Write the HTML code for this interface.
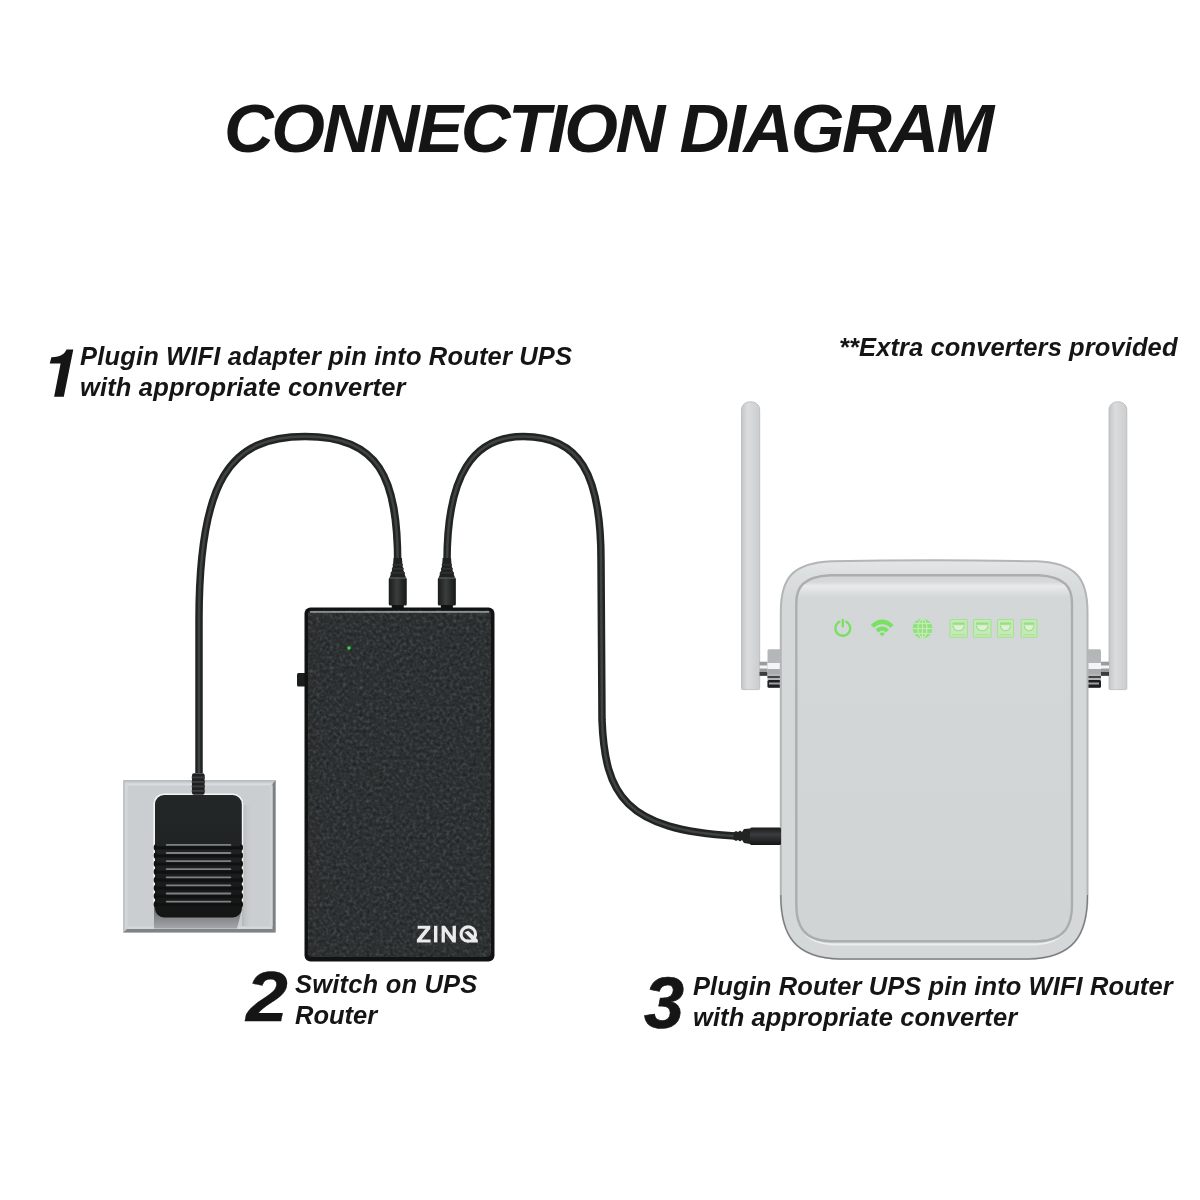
<!DOCTYPE html>
<html><head><meta charset="utf-8">
<style>
html,body{margin:0;padding:0;background:#fff;}
body{width:1200px;height:1200px;position:relative;overflow:hidden;font-family:"Liberation Sans",sans-serif;}
.t{position:absolute;white-space:nowrap;will-change:transform;font-weight:bold;font-style:italic;color:#151515;line-height:1;}
svg{position:absolute;left:0;top:0;}
</style></head><body>
<svg width="1200" height="1200" viewBox="0 0 1200 1200">
<defs>
  <filter id="grain" x="0" y="0" width="100%" height="100%" color-interpolation-filters="sRGB">
    <feTurbulence type="fractalNoise" baseFrequency="0.3" numOctaves="2" seed="7" result="n"/>
    <feColorMatrix in="n" type="matrix" values="0 0 0 0 0.29  0 0 0 0 0.31  0 0 0 0 0.32  2.4 0 0 0 -1.2" result="lite"/>
    <feColorMatrix in="n" type="matrix" values="0 0 0 0 0.08  0 0 0 0 0.10  0 0 0 0 0.11  -2.0 0 0 0 0.9" result="dark"/>
    <feMerge result="m"><feMergeNode in="dark"/><feMergeNode in="lite"/></feMerge>
    <feComposite in="m" in2="SourceGraphic" operator="in"/>
  </filter>
  <linearGradient id="ant" x1="0" x2="1" y1="0" y2="0">
    <stop offset="0" stop-color="#c4c6c7"/><stop offset="0.35" stop-color="#dadcdd"/><stop offset="1" stop-color="#cbcdce"/>
  </linearGradient>
  <linearGradient id="panel" gradientUnits="userSpaceOnUse" x1="0" x2="0" y1="575" y2="943">
    <stop offset="0" stop-color="#d3d6d7"/><stop offset="0.019" stop-color="#d6d9da"/><stop offset="0.03" stop-color="#e8eaeb"/><stop offset="0.06" stop-color="#d4d7d8"/><stop offset="1" stop-color="#d1d4d5"/>
  </linearGradient>
  <linearGradient id="rim" gradientUnits="userSpaceOnUse" x1="0" x2="0" y1="560" y2="960">
    <stop offset="0" stop-color="#e4e6e7"/><stop offset="0.035" stop-color="#dcdfe0"/><stop offset="0.1" stop-color="#d5d8d9"/><stop offset="1" stop-color="#d5d8d9"/>
  </linearGradient>
  <linearGradient id="plug" x1="0" x2="1" y1="0" y2="0">
    <stop offset="0" stop-color="#1a1b1b"/><stop offset="0.45" stop-color="#3a3c3d"/><stop offset="1" stop-color="#161717"/>
  </linearGradient>
  <linearGradient id="plugh" x1="0" x2="0" y1="0" y2="1">
    <stop offset="0" stop-color="#1a1b1b"/><stop offset="0.4" stop-color="#3a3c3d"/><stop offset="1" stop-color="#141515"/>
  </linearGradient>
  <linearGradient id="adapter" x1="0" x2="0" y1="0" y2="1">
    <stop offset="0" stop-color="#242728"/><stop offset="0.35" stop-color="#212425"/><stop offset="1" stop-color="#141515"/>
  </linearGradient>
</defs>

<!-- ================= WALL PLATE ================= -->
<g id="plate">
  <linearGradient id="ptop" x1="0" x2="0" y1="0" y2="1"><stop offset="0" stop-color="#b5b8ba"/><stop offset="0.3" stop-color="#c3c6c8"/><stop offset="0.7" stop-color="#dde0e2"/><stop offset="1" stop-color="#cdd0d2"/></linearGradient>
  <rect x="123.3" y="780" width="152.3" height="152.5" fill="#cbced0"/>
  <polygon points="123.3,780 275.6,780 269.8,786 127.5,786" fill="url(#ptop)"/>
  <polygon points="123.3,780 127.5,786 127.5,927 123.3,932.5" fill="#d4d7d9"/>
  <rect x="123.3" y="780" width="1.4" height="152.5" fill="#b9bcbe"/>
  <polygon points="127.5,926.5 272.5,926.5 272.5,929 127.5,929" fill="#d5d8da"/>
  <polygon points="275.6,780 275.6,932.5 272.5,929 272.5,784" fill="#7c8082"/>
  <polygon points="123.3,932.5 275.6,932.5 272.5,929 127,929" fill="#7f8385"/>
  <rect x="269.8" y="786" width="2.7" height="140.5" fill="#d0d3d5"/>
  <!-- shadow under adapter -->
  <linearGradient id="ash" x1="0" x2="0" y1="0" y2="1"><stop offset="0" stop-color="#5f6365"/><stop offset="1" stop-color="#a3a7a9"/></linearGradient>
  <path d="M154,905 L243,905 L237,928.5 L154,928.5 Z" fill="url(#ash)"/>
  <linearGradient id="rsh" x1="0" x2="1" y1="0" y2="0"><stop offset="0" stop-color="#aeb2b4" stop-opacity="0.8"/><stop offset="1" stop-color="#cbced0" stop-opacity="0"/></linearGradient><rect x="242" y="805" width="10" height="121" fill="url(#rsh)"/>
  <rect x="153.4" y="793.4" width="89.9" height="118" rx="10.5" fill="#f3f5f6"/>
</g>

<!-- ================= CABLES ================= -->
<g fill="none" stroke-linecap="butt">
  <path id="c1" d="M199,773 L199,620 C199,480 230,436.5 305,436.5 C379,436.5 397.7,477 397.7,563" stroke="#222424" stroke-width="7.5"/>
  <path d="M199,773 L199,620 C199,480 230,436.5 305,436.5 C379,436.5 397.7,477 397.7,563" stroke="#404344" stroke-width="2.5"/>
  <path id="c2" d="M447,562 C447,475 473,436.5 523.5,436.5 C578.5,436.5 601,472 601,560 L602,720 C605,795 625,830 735,836" stroke="#222424" stroke-width="7.5"/>
  <path d="M447,562 C447,475 473,436.5 523.5,436.5 C578.5,436.5 601,472 601,560 L602,720 C605,795 625,830 735,836" stroke="#404344" stroke-width="2.5"/>
</g>

<!-- adapter -->
<g id="adapter">
  <rect x="192" y="773.3" width="12.6" height="21.5" rx="2" fill="#1f2121"/>
  <g fill="#3b3e3f"><rect x="191.7" y="776.5" width="13.2" height="1.8"/><rect x="191.7" y="781" width="13.2" height="1.8"/><rect x="191.7" y="785.5" width="13.2" height="1.8"/><rect x="191.7" y="790" width="13.2" height="1.8"/></g>
  <rect x="155" y="795" width="86.8" height="122.5" rx="9" fill="url(#adapter)"/>
  <g fill="#101212"><rect x="156" y="846.2" width="85" height="3.2" rx="1.6"/><rect x="156" y="854.3" width="85" height="3.2" rx="1.6"/><rect x="156" y="862.4" width="85" height="3.2" rx="1.6"/><rect x="156" y="870.5" width="85" height="3.2" rx="1.6"/><rect x="156" y="878.6" width="85" height="3.2" rx="1.6"/><rect x="156" y="886.7" width="85" height="3.2" rx="1.6"/><rect x="156" y="894.8" width="85" height="3.2" rx="1.6"/><rect x="156" y="902.9" width="85" height="3.2" rx="1.6"/><ellipse cx="155.3" cy="847.5" rx="1.6" ry="3"/><ellipse cx="241.4" cy="847.5" rx="1.6" ry="3"/><ellipse cx="155.3" cy="855.6" rx="1.6" ry="3"/><ellipse cx="241.4" cy="855.6" rx="1.6" ry="3"/><ellipse cx="155.3" cy="863.7" rx="1.6" ry="3"/><ellipse cx="241.4" cy="863.7" rx="1.6" ry="3"/><ellipse cx="155.3" cy="871.8" rx="1.6" ry="3"/><ellipse cx="241.4" cy="871.8" rx="1.6" ry="3"/><ellipse cx="155.3" cy="879.9" rx="1.6" ry="3"/><ellipse cx="241.4" cy="879.9" rx="1.6" ry="3"/><ellipse cx="155.3" cy="888.0" rx="1.6" ry="3"/><ellipse cx="241.4" cy="888.0" rx="1.6" ry="3"/><ellipse cx="155.3" cy="896.1" rx="1.6" ry="3"/><ellipse cx="241.4" cy="896.1" rx="1.6" ry="3"/><ellipse cx="155.3" cy="904.2" rx="1.6" ry="3"/><ellipse cx="241.4" cy="904.2" rx="1.6" ry="3"/></g>
  <g fill="#7d8183"><rect x="165.8" y="844.0" width="65.5" height="1.8" rx="0.9"/><rect x="165.8" y="852.1" width="65.5" height="1.8" rx="0.9"/><rect x="165.8" y="860.2" width="65.5" height="1.8" rx="0.9"/><rect x="165.8" y="868.3" width="65.5" height="1.8" rx="0.9"/><rect x="165.8" y="876.4" width="65.5" height="1.8" rx="0.9"/><rect x="165.8" y="884.5" width="65.5" height="1.8" rx="0.9"/><rect x="165.8" y="892.6" width="65.5" height="1.8" rx="0.9"/><rect x="165.8" y="900.7" width="65.5" height="1.8" rx="0.9"/></g>
</g>

<!-- UPS connectors -->
<g id="conn">
  <path d="M393.55,558 L401.95,558 L402.35,563.5 L402.95,564.8 L402.55,566.5 L403.75,568.8 L403.35,570.6 L404.95,573 L404.75,574.6 L405.95,577.8 L389.55,577.8 L390.75,574.6 L390.55,573 L392.15,570.6 L391.75,568.8 L392.95,566.5 L392.55,564.8 L393.15,563.5 Z" fill="#202222"/>
  <g fill="#3a3d3e"><rect x="393.25" y="564.3" width="9" height="1"/><rect x="392.15" y="568.3" width="11.2" height="1"/><rect x="390.85" y="572.4" width="13.8" height="1"/></g>
  <rect x="388.75" y="577.6" width="18" height="28" rx="1.5" fill="url(#plug)"/>
  <rect x="389.25" y="577.8" width="17" height="1.2" fill="#4a4d4e"/>
  <rect x="391.75" y="605" width="12" height="3" fill="#111"/>
  <path d="M442.65000000000003,558 L451.05,558 L451.45000000000005,563.5 L452.05,564.8 L451.65000000000003,566.5 L452.85,568.8 L452.45000000000005,570.6 L454.05,573 L453.85,574.6 L455.05,577.8 L438.65000000000003,577.8 L439.85,574.6 L439.65000000000003,573 L441.25,570.6 L440.85,568.8 L442.05,566.5 L441.65000000000003,564.8 L442.25,563.5 Z" fill="#202222"/>
  <g fill="#3a3d3e"><rect x="442.35" y="564.3" width="9" height="1"/><rect x="441.25" y="568.3" width="11.2" height="1"/><rect x="439.95000000000005" y="572.4" width="13.8" height="1"/></g>
  <rect x="437.85" y="577.6" width="18" height="28" rx="1.5" fill="url(#plug)"/>
  <rect x="438.35" y="577.8" width="17" height="1.2" fill="#4a4d4e"/>
  <rect x="440.85" y="605" width="12" height="3" fill="#111"/>
  </g>

<!-- ================= UPS BOX ================= -->
<g id="ups">
  <rect x="297" y="673" width="9" height="13.5" rx="1.5" fill="#1c1d1d"/>
  <rect x="304.5" y="607.5" width="190" height="354" rx="6" fill="#111212"/>
  <rect x="308" y="610.5" width="183" height="346.5" rx="4" fill="#2c3031"/>
  <rect x="308" y="610.5" width="183" height="346.5" rx="4" fill="#2c3031" filter="url(#grain)"/>
  <rect x="310" y="611.2" width="179" height="1.5" fill="#b4b8ba" opacity="0.85"/>
  <circle cx="349" cy="648" r="1.8" fill="#38d33a"/>
  <g fill="#ebebeb">
    <polygon points="417.6,925.8 430.3,925.8 430.3,928.7 421.6,939.5 430.6,939.5 430.6,942.4 416.9,942.4 416.9,939.5 425.6,928.7 417.6,928.7"/>
    <rect x="434" y="925.8" width="3.4" height="16.6"/>
    <polygon points="441.6,942.4 441.6,925.8 444.9,925.8 452.6,936.6 452.6,925.8 455.9,925.8 455.9,942.4 452.6,942.4 444.9,931.6 444.9,942.4"/>
    <path d="M474.6,937.6 A7.2,7.2 0 1 0 468.5,941.3" fill="none" stroke="#ebebeb" stroke-width="3.1"/>
    <polygon points="464.5,932.2 468.3,930.8 477.8,939.8 477.8,942.4 467,942.4 467,939.6 471.5,939.6"/>
  </g>
</g>

<!-- ================= ROUTER ================= -->
<g id="router">
  <!-- antennas -->
  <path d="M741.5,410 C741.5,399 759.7,399 759.7,410 L759.7,688.5 Q759.7,689.6 758.5,689.6 L742.7,689.6 Q741.5,689.6 741.5,688.5 Z" fill="url(#ant)" stroke="#b5b7b8" stroke-width="0.8"/>
  <path d="M1109,410 C1109,399 1126.8,399 1126.8,410 L1126.8,688.5 Q1126.8,689.6 1125.6,689.6 L1110.2,689.6 Q1109,689.6 1109,688.5 Z" fill="url(#ant)" stroke="#b5b7b8" stroke-width="0.8"/>
  <!-- hinges -->
  <rect x="759.6" y="661.7" width="8" height="14" fill="#9a9d9f"/>
  <rect x="759.6" y="665.5" width="8" height="3" fill="#f4f5f6"/>
  <rect x="759.6" y="672" width="8" height="3.8" fill="#3a3c3e"/>
  <rect x="767.5" y="649.2" width="14" height="38.5" rx="1.5" fill="#b4b7b8"/>
  <rect x="767.5" y="663" width="14" height="6" fill="#f3f4f5"/>
  <rect x="767.5" y="669" width="14" height="5" fill="#a9acae"/>
  <rect x="767.5" y="676" width="14" height="2" fill="#3f4447"/>
  <rect x="767.5" y="680" width="14" height="7.7" rx="1.5" fill="#1d1f20"/>
  <rect x="769" y="682.5" width="12" height="2" fill="#9fa2a4"/>
  <rect x="1100.8" y="661.7" width="8.2" height="14" fill="#9a9d9f"/>
  <rect x="1100.8" y="665.5" width="8.2" height="3" fill="#f4f5f6"/>
  <rect x="1100.8" y="672" width="8.2" height="3.8" fill="#3a3c3e"/>
  <rect x="1087" y="649.2" width="14" height="38.5" rx="1.5" fill="#b4b7b8"/>
  <rect x="1087" y="663" width="14" height="6" fill="#f3f4f5"/>
  <rect x="1087" y="669" width="14" height="5" fill="#a9acae"/>
  <rect x="1087" y="676" width="14" height="2" fill="#3f4447"/>
  <rect x="1087" y="680" width="14" height="7.7" rx="1.5" fill="#1d1f20"/>
  <rect x="1087" y="682.5" width="12" height="2" fill="#9fa2a4"/>
  <!-- body -->
  <path d="M780.8,612 C780.8,578 792.5,563 831.5,561.3 Q934.15,559.3 1036.8,561.3 C1075.8,563 1087.5,578 1087.5,612 L1087.5,895 C1087.5,935 1073.8,958 1028.3,959 L840,959 C794.5,958 780.8,935 780.8,895 Z" fill="url(#rim)" stroke="#b3b6b7" stroke-width="2"/>
  <path d="M780.8,895 C780.8,935 794.5,958 840,959 L1028.3,959 C1073.8,958 1087.5,935 1087.5,895" fill="none" stroke="#76797b" stroke-width="1.1"/>
  <path d="M798.5,912 C799.5,930 806,943 832,944.5 L1036.3,944.5 C1062.3,943 1068.8,930 1069.8,912" fill="none" stroke="#eceeef" stroke-width="1.8"/>
  <path d="M796.3,603 C796.3,588 803,576.5 830,575.3 L1038.3,575.3 C1065.3,576.5 1072,588 1072,603 L1072,905 C1072,925 1065.3,940 1038.3,941.3 L830,941.3 C803,940 796.3,925 796.3,905 Z" fill="url(#panel)" stroke="#abaeaf" stroke-width="2.4"/>
  <!-- LEDs -->
  <filter id="soft" x="-20%" y="-20%" width="140%" height="140%"><feGaussianBlur stdDeviation="0.45"/></filter>
  <g filter="url(#soft)">
  <g fill="none" stroke="#78e062" stroke-width="2.3" stroke-linecap="round">
    <path d="M839.4,621.8 A7.4,7.4 0 1 0 846.2,621.8"/>
    <line x1="842.8" y1="619.8" x2="842.8" y2="626.5"/>
  </g>
  <g fill="#78e262">
    <path d="M870.8,625 C877,617.5 887.5,617.5 893.5,625 L890.5,628 C886,623 878.5,623 874,628 Z"/>
    <path d="M875.5,629.5 C879.5,625.5 885,625.5 889,629.5 L886,632.5 C883.5,630 881,630 878.5,632.5 Z"/>
    <path d="M879.5,633.5 C881,632 883.5,632 885,633.5 L882.2,636.5 Z"/>
  </g>
  <circle cx="922.5" cy="628.5" r="9.8" fill="#8fe27b"/>
  <g stroke="#c6ebbb" stroke-width="1.2" fill="none">
    <ellipse cx="922.5" cy="628.5" rx="4.5" ry="9.3"/>
    <line x1="922.5" y1="619.5" x2="922.5" y2="637.5"/>
    <line x1="913" y1="628.5" x2="932" y2="628.5"/>
    <line x1="914.5" y1="623.5" x2="930.5" y2="623.5"/>
    <line x1="914.5" y1="633.5" x2="930.5" y2="633.5"/>
  </g>
  <rect x="950" y="619.5" width="17.3" height="17.8" rx="1" fill="#c6e9bb" stroke="#a2e38e" stroke-width="1.1"/><rect x="952.5" y="622.5" width="12.3" height="2.2" fill="#97e07f"/><path d="M953.0,625.5 C954.0,632.5 963.3,632.5 964.3,625.5" fill="#def1d6" stroke="#98e081" stroke-width="1.2"/><rect x="952.0" y="634" width="13.3" height="1.5" fill="#b3e58f"/><rect x="973.5" y="619.5" width="17.5" height="17.8" rx="1" fill="#c6e9bb" stroke="#a2e38e" stroke-width="1.1"/><rect x="976.0" y="622.5" width="12.5" height="2.2" fill="#97e07f"/><path d="M976.5,625.5 C977.5,632.5 987.0,632.5 988.0,625.5" fill="#def1d6" stroke="#98e081" stroke-width="1.2"/><rect x="975.5" y="634" width="13.5" height="1.5" fill="#b3e58f"/><rect x="997.5" y="619.5" width="16" height="17.8" rx="1" fill="#c6e9bb" stroke="#a2e38e" stroke-width="1.1"/><rect x="1000.0" y="622.5" width="11.0" height="2.2" fill="#97e07f"/><path d="M1000.5,625.5 C1001.5,632.5 1009.5,632.5 1010.5,625.5" fill="#def1d6" stroke="#98e081" stroke-width="1.2"/><rect x="999.5" y="634" width="12.0" height="1.5" fill="#b3e58f"/><rect x="1021.2" y="619.5" width="15.8" height="17.8" rx="1" fill="#c6e9bb" stroke="#a2e38e" stroke-width="1.1"/><rect x="1023.7" y="622.5" width="10.8" height="2.2" fill="#97e07f"/><path d="M1024.2,625.5 C1025.2,632.5 1033.0,632.5 1034.0,625.5" fill="#def1d6" stroke="#98e081" stroke-width="1.2"/><rect x="1023.2" y="634" width="11.8" height="1.5" fill="#b3e58f"/>
  </g>
  <!-- router DC plug -->
  <path d="M733.5,832.5 L736,831 L738,832 L740,830.5 L742,832 L744,829 L750,828.5 L750,844 L744,843 L742,840 L740,841.5 L738,840 L736,841 L733.5,839.5 Z" fill="#222424"/>
  <rect x="750" y="827.5" width="31" height="17.5" rx="1.5" fill="url(#plugh)"/>
</g>
</svg>

<div class="t" style="left:224px;top:94px;font-size:69px;letter-spacing:-2.5px;">CONNECTION DIAGRAM</div>
<svg width="100" height="420" style="left:0;top:0;position:absolute" viewBox="0 0 100 420"><path d="M54.1,396.7 L63.8,396.7 L73.3,349.5 L66.5,349.5 C64.5,354 61.5,356.5 51.4,357.3 L49.75,363.6 L60.6,363.6 Z" fill="#151515"/></svg>
<div class="t" style="left:80px;top:344px;font-size:25.5px;letter-spacing:0.16px;">Plugin WIFI adapter pin into Router UPS</div>
<div class="t" style="left:80px;top:375px;font-size:25.5px;letter-spacing:0.15px;">with appropriate converter</div>
<div class="t" style="left:839px;top:335px;font-size:25.5px;letter-spacing:0.1px;">**Extra converters provided</div>
<div class="t" style="left:245.6px;top:961px;font-size:71px;transform:scaleX(1.06);transform-origin:0 0;-webkit-text-stroke:0.3px #151515;">2</div>
<div class="t" style="left:295px;top:972.3px;font-size:25.5px;letter-spacing:0.2px;">Switch on UPS</div>
<div class="t" style="left:295px;top:1003px;font-size:25.5px;">Router</div>
<div class="t" style="left:644px;top:967px;font-size:72px;-webkit-text-stroke:0.7px #151515;">3</div>
<div class="t" style="left:693px;top:973.5px;font-size:25.5px;letter-spacing:0.1px;">Plugin Router UPS pin into WIFI Router</div>
<div class="t" style="left:693px;top:1004.5px;font-size:25.5px;letter-spacing:0.1px;">with appropriate converter</div>
</body></html>
